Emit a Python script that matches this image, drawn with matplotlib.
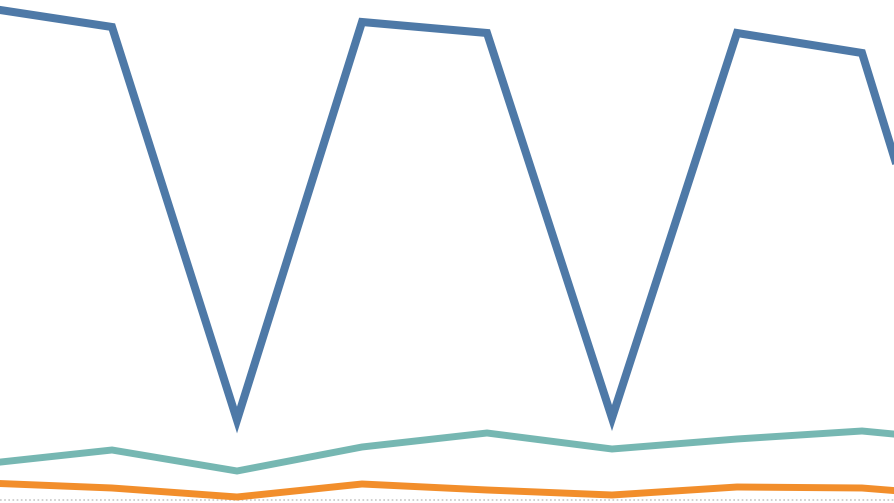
import matplotlib
matplotlib.use("Agg")
import matplotlib.pyplot as plt

periods = list(range(9))
blue_vals = [98.4, 94.6, 16.0, 95.6, 93.4, 16.4, 93.4, 89.4, 8.4]
teal_vals = [7.3, 10.0, 5.8, 10.6, 13.4, 10.2, 12.2, 13.8, 11.4]
orange_vals = [3.4, 2.4, 0.6, 3.2, 2.0, 1.0, 2.6, 2.4, 0.4]

fig = plt.figure(figsize=(8.94, 5.03), dpi=100)
ax = fig.add_axes([0, 0, 1, 1])
ax.axhline(0, color="#c8c8c8", lw=1.2, ls=(0, (1, 1.5)), zorder=1)
ax.plot(periods, orange_vals, color="#f28e2b", lw=5.0, solid_joinstyle="miter", zorder=2)
ax.plot(periods, teal_vals, color="#76b7b2", lw=5.0, solid_joinstyle="miter", zorder=3)
ax.plot(periods, blue_vals, color="#4e79a7", lw=5.8, solid_joinstyle="miter", zorder=4)
ax.set_xlim(0.104, 7.256)
ax.set_ylim(-0.6, 100)
ax.axis("off")
fig.savefig("out.png", dpi=100)
